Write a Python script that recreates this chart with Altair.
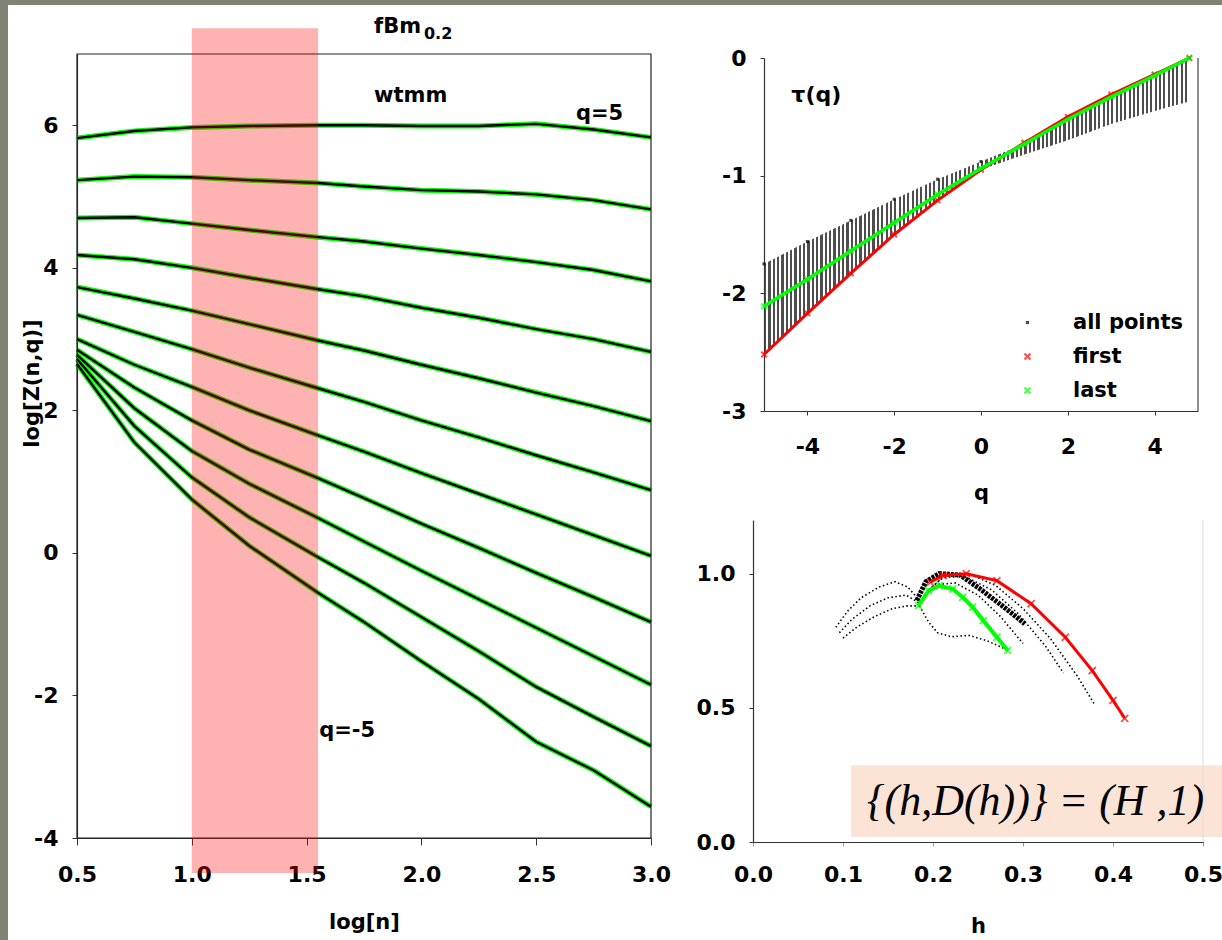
import altair as alt
import pandas as pd

# ---------------- left panel: wtmm partition function log Z(n,q) ----------------
log_n = [0.5, 0.75, 1.0, 1.25, 1.55, 1.75, 2.0, 2.25, 2.5, 2.75, 3.0]
q_orders = [5, 4, 3, 2, 1, 0, -1, -2, -3, -4, -5]
logZ_q5 = [5.82, 5.92, 5.97, 5.99, 6.00, 6.00, 5.99, 5.99, 6.02, 5.94, 5.83]
logZ_q4 = [5.23, 5.28, 5.27, 5.23, 5.19, 5.14, 5.09, 5.07, 5.03, 4.95, 4.82]
logZ_q3 = [4.70, 4.71, 4.62, 4.53, 4.43, 4.37, 4.27, 4.18, 4.08, 3.97, 3.81]
logZ_q2 = [4.18, 4.12, 4.00, 3.86, 3.70, 3.60, 3.44, 3.30, 3.14, 3.00, 2.82]
logZ_q1 = [3.73, 3.57, 3.40, 3.21, 2.98, 2.84, 2.64, 2.45, 2.25, 2.06, 1.85]
logZ_q0 = [3.34, 3.10, 2.86, 2.60, 2.31, 2.12, 1.86, 1.62, 1.37, 1.13, 0.88]
logZ_qm1 = [3.00, 2.64, 2.33, 2.00, 1.65, 1.42, 1.12, 0.83, 0.54, 0.25, -0.04]
logZ_qm2 = [2.85, 2.32, 1.86, 1.45, 1.05, 0.77, 0.41, 0.07, -0.28, -0.62, -0.97]
logZ_qm3 = [2.78, 2.03, 1.43, 0.97, 0.49, 0.16, -0.25, -0.65, -1.05, -1.45, -1.85]
logZ_qm4 = [2.72, 1.78, 1.06, 0.50, -0.06, -0.42, -0.90, -1.38, -1.88, -2.30, -2.71]
logZ_qm5 = [2.65, 1.55, 0.75, 0.10, -0.56, -0.97, -1.52, -2.05, -2.65, -3.05, -3.56]
logZ_all = [logZ_q5, logZ_q4, logZ_q3, logZ_q2, logZ_q1, logZ_q0,
            logZ_qm1, logZ_qm2, logZ_qm3, logZ_qm4, logZ_qm5]
fit_window = [1.0, 1.55]
fit_window_y = [-4.49, 7.36]

# ---------------- top right: tau(q) ----------------
q_grid = [-5, -4, -3, -2, -1, 0, 1, 2, 3, 4, 4.8]
tau_first = [-2.52, -2.17, -1.83, -1.50, -1.21, -0.95, -0.72, -0.50, -0.31, -0.14, 0.0]
tau_last = [-2.11, -1.88, -1.64, -1.40, -1.16, -0.94, -0.73, -0.52, -0.33, -0.15, 0.0]
tau_cloud_hi = [-1.75, -1.56, -1.38, -1.20, -1.03, -0.88, -0.73, -0.52, -0.33, -0.15, 0.0]
tau_cloud_lo = [-2.52, -2.17, -1.83, -1.50, -1.21, -0.95, -0.82, -0.70, -0.56, -0.45, -0.37]
series_names = ["all points", "first", "last"]

# ---------------- bottom right: spectrum D(h) ----------------
h_first = [0.197, 0.211, 0.237, 0.271, 0.309, 0.347, 0.377, 0.400, 0.413]
D_first = [0.968, 0.993, 1.000, 0.974, 0.888, 0.763, 0.639, 0.528, 0.461]
h_last = [0.184, 0.195, 0.207, 0.222, 0.233, 0.244, 0.256, 0.271, 0.283]
D_last = [0.881, 0.937, 0.955, 0.943, 0.912, 0.875, 0.825, 0.763, 0.714]
arc_h = {
    "a": [0.092, 0.105, 0.120, 0.140, 0.158, 0.172, 0.185],
    "b": [0.100, 0.115, 0.135, 0.155, 0.172, 0.185],
    "c": [0.096, 0.110, 0.130, 0.150, 0.170, 0.185],
    "d": [0.185, 0.195, 0.205, 0.220, 0.240, 0.260, 0.280],
    "e": [0.190, 0.205, 0.225, 0.250, 0.275, 0.300],
    "f": [0.190, 0.210, 0.235, 0.265, 0.295, 0.325, 0.345],
    "g": [0.195, 0.215, 0.240, 0.270, 0.300, 0.330, 0.360, 0.380],
}
arc_D = {
    "a": [0.80, 0.86, 0.91, 0.95, 0.97, 0.95, 0.90],
    "b": [0.76, 0.80, 0.84, 0.87, 0.88, 0.88],
    "c": [0.78, 0.83, 0.88, 0.91, 0.92, 0.89],
    "d": [0.88, 0.82, 0.78, 0.765, 0.77, 0.75, 0.72],
    "e": [0.91, 0.96, 0.965, 0.92, 0.84, 0.74],
    "f": [0.92, 0.985, 0.99, 0.94, 0.85, 0.73, 0.63],
    "g": [0.94, 0.995, 1.0, 0.955, 0.87, 0.76, 0.62, 0.51],
}
heavy_h = [0.182, 0.192, 0.207, 0.230, 0.252, 0.279, 0.302]
heavy_D = [0.90, 0.97, 1.00, 0.995, 0.944, 0.875, 0.813]

FONT = "DejaVu Sans"
GREEN = "#00ff00"
MINUS = "replace(datum.label, '\u2212', '-')"

# ---------------- scales (pixel ranges inside the single canvas) ----------------
def Lx():
    return alt.Scale(domain=[0.5, 3.0], range=[69, 643], nice=False, zero=False)
def Ly():
    return alt.Scale(domain=[-4, 7], range=[833, 49], nice=False, zero=False)
def Tx():
    return alt.Scale(domain=[-5, 5], range=[756, 1190], nice=False, zero=False)
def Ty():
    return alt.Scale(domain=[-3, 0], range=[406, 53], nice=False, zero=False)
def Hx():
    return alt.Scale(domain=[0.0, 0.5], range=[745, 1195], nice=False, zero=False)
def Hy():
    return alt.Scale(domain=[0.0, 1.2], range=[837, 515], nice=False, zero=False)

layers = []

# ---------------- left panel ----------------
rows = []
for q, ys in zip(q_orders, logZ_all):
    for x, y in zip(log_n, ys):
        rows.append({"q": q, "logn": x, "logZ": y})
df_left = pd.DataFrame(rows)

ax_lx = alt.Axis(orient="bottom", offset=-102, values=[0.5, 1.0, 1.5, 2.0, 2.5, 3.0],
                 format=".1f", title="log[n]", tickSize=7, labelPadding=19,
                 labelFlush=False, titleY=90, titleBaseline="alphabetic")
ax_ly = alt.Axis(orient="left", offset=-69, values=[-4, -2, 0, 2, 4, 6], format="d",
                 labelExpr=MINUS,
                 title="log[Z(n,q)]", tickSize=5, labelPadding=14, titleX=-39,
                 titleY=378, titleAngle=-90, titleBaseline="alphabetic",
                 titleAlign="center")

layers.append(alt.Chart(df_left).mark_line(color=GREEN, strokeWidth=5).encode(
    x=alt.X("logn:Q", scale=Lx(), axis=None),
    y=alt.Y("logZ:Q", scale=Ly(), axis=None),
    detail="q:N",
))
layers.append(alt.Chart(df_left).mark_line(color="black", strokeWidth=2.4).encode(
    x=alt.X("logn:Q", scale=Lx(), axis=ax_lx),
    y=alt.Y("logZ:Q", scale=Ly(), axis=ax_ly),
    detail="q:N",
))
df_box = pd.DataFrame({"x1": [0.5], "x2": [3.0], "y1": [-4], "y2": [7]})
layers.append(alt.Chart(df_box).mark_rect(fillOpacity=0, stroke="#222", strokeWidth=1.2).encode(
    x=alt.X("x1:Q", scale=Lx(), axis=None), x2="x2:Q",
    y=alt.Y("y1:Q", scale=Ly(), axis=None), y2="y2:Q",
))
df_band = pd.DataFrame({"x1": [fit_window[0]], "x2": [fit_window[1]],
                        "y1": [fit_window_y[0]], "y2": [fit_window_y[1]]})
layers.append(alt.Chart(df_band).mark_rect(color="#ff0000", opacity=0.3).encode(
    x=alt.X("x1:Q", scale=Lx(), axis=None), x2="x2:Q",
    y=alt.Y("y1:Q", scale=Ly(), axis=None), y2="y2:Q",
))
df_ltxt = pd.DataFrame({"label": ["fBm", "wtmm", "q=5", "q=-5"],
                        "x": [1.794, 1.794, 2.673, 1.555],
                        "y": [7.30, 6.32, 6.07, -2.58]})
layers.append(alt.Chart(df_ltxt).mark_text(font=FONT, fontSize=21, fontWeight="bold",
                                           align="left", baseline="alphabetic",
                                           color="black").encode(
    x=alt.X("x:Q", scale=Lx(), axis=None), y=alt.Y("y:Q", scale=Ly(), axis=None),
    text="label:N",
))
df_sub = pd.DataFrame({"label": ["0.2"], "x": [2.011], "y": [7.21]})
layers.append(alt.Chart(df_sub).mark_text(font=FONT, fontSize=16, fontWeight="bold",
                                          align="left", baseline="alphabetic",
                                          color="black").encode(
    x=alt.X("x:Q", scale=Lx(), axis=None), y=alt.Y("y:Q", scale=Ly(), axis=None),
    text="label:N",
))

# ---------------- tau(q) panel ----------------
df_cloud = pd.DataFrame({"q": q_grid, "lo": tau_cloud_lo, "hi": tau_cloud_hi})
stops = []
n_cols = 98
for i in range(n_cols):
    a = i / n_cols
    b = (i + 0.5) / n_cols
    stops += [{"offset": a, "color": "#ffffff"}, {"offset": a, "color": "#3a3a3a"},
              {"offset": b, "color": "#3a3a3a"}, {"offset": b, "color": "#ffffff"}]
stops.append({"offset": 1, "color": "#ffffff"})
gradient = {"gradient": "linear", "x1": 0, "x2": 1, "y1": 0, "y2": 0, "stops": stops}

ax_tx = alt.Axis(orient="bottom", offset=-529, values=[-4, -2, 0, 2, 4], format="d",
                 labelExpr=MINUS,
                 title="q", tickSize=4, labelPadding=21, labelFlush=False,
                 titleY=88, titleBaseline="alphabetic")
ax_ty = alt.Axis(orient="left", offset=-756, values=[-3, -2, -1, 0], format="d",
                 labelExpr=MINUS, title=None, tickSize=4, labelPadding=14)

layers.append(alt.Chart(df_cloud).mark_area(fill=gradient, opacity=0.9).encode(
    x=alt.X("q:Q", scale=Tx(), axis=ax_tx),
    y=alt.Y("lo:Q", scale=Ty(), axis=ax_ty),
    y2="hi:Q",
))
trow = []
for q, a, b, c in zip(q_grid, tau_cloud_hi, tau_first, tau_last):
    trow.append({"q": q, "tau": a, "series": "all points"})
    trow.append({"q": q, "tau": b, "series": "first"})
    trow.append({"q": q, "tau": c, "series": "last"})
df_tau = pd.DataFrame(trow)
x_path = "M-1,-1L1,1M-1,1L1,-1"
dot_path = "M-0.2,-0.2L0.2,-0.2L0.2,0.2L-0.2,0.2Z"
leg = alt.Legend(orient="none", legendX=1009, legendY=307, title=None,
                 labelFont=FONT, labelFontSize=21, labelFontWeight="bold",
                 labelColor="black", symbolSize=36, symbolStrokeWidth=2,
                 labelOffset=35, rowPadding=12, padding=0)
layers.append(alt.Chart(df_tau).mark_point(filled=False, size=30, strokeWidth=2).encode(
    x=alt.X("q:Q", scale=Tx(), axis=None),
    y=alt.Y("tau:Q", scale=Ty(), axis=None),
    color=alt.Color("series:N", scale=alt.Scale(domain=series_names,
                                                range=["black", "red", GREEN]), legend=leg),
    shape=alt.Shape("series:N", scale=alt.Scale(domain=series_names,
                                                range=[dot_path, x_path, x_path]), legend=leg),
))
layers.append(alt.Chart(df_tau[df_tau.series == "first"]).mark_line(
    color="red", strokeWidth=3).encode(
    x=alt.X("q:Q", scale=Tx(), axis=None), y=alt.Y("tau:Q", scale=Ty(), axis=None)))
layers.append(alt.Chart(df_tau[df_tau.series == "last"]).mark_line(
    color=GREEN, strokeWidth=3.5).encode(
    x=alt.X("q:Q", scale=Tx(), axis=None), y=alt.Y("tau:Q", scale=Ty(), axis=None)))
df_tb = pd.DataFrame({"q": [5], "y1": [-3], "y2": [0]})
layers.append(alt.Chart(df_tb).mark_rule(color="#444", strokeWidth=1.2).encode(
    x=alt.X("q:Q", scale=Tx(), axis=None), y=alt.Y("y1:Q", scale=Ty(), axis=None),
    y2="y2:Q"))
df_tt = pd.DataFrame({"label": ["τ(q)"], "q": [-4.37], "tau": [-0.374]})
layers.append(alt.Chart(df_tt).mark_text(font=FONT, fontSize=22, fontWeight="bold",
                                         align="left", baseline="alphabetic",
                                         color="black").encode(
    x=alt.X("q:Q", scale=Tx(), axis=None), y=alt.Y("tau:Q", scale=Ty(), axis=None),
    text="label:N"))

# ---------------- D(h) panel ----------------
arows = []
for k in arc_h:
    for i, (h, d) in enumerate(zip(arc_h[k], arc_D[k])):
        arows.append({"arc": k, "i": i, "h": h, "D": d})
df_arcs = pd.DataFrame(arows)
df_heavy = pd.DataFrame({"h": heavy_h, "D": heavy_D, "i": list(range(len(heavy_h)))})
df_hf = pd.DataFrame({"h": h_first, "D": D_first, "i": list(range(len(h_first)))})
df_hl = pd.DataFrame({"h": h_last, "D": D_last, "i": list(range(len(h_last)))})

ax_hx = alt.Axis(orient="bottom", offset=-98, values=[0.0, 0.1, 0.2, 0.3, 0.4, 0.5],
                 format=".1f", title="h", tickSize=4, labelPadding=18,
                 labelFlush=False, titleY=90, titleBaseline="alphabetic",
                 tickColor="#999")
ax_hy = alt.Axis(orient="left", offset=-745, values=[0.0, 0.5, 1.0], format=".1f",
                 title=None, tickSize=4, labelPadding=14)

df_fbox = pd.DataFrame({"x1": [0.109], "x2": [0.521], "y1": [0.019], "y2": [0.286]})
layers.append(alt.Chart(df_fbox).mark_rect(color="#fbe4d6").encode(
    x=alt.X("x1:Q", scale=Hx(), axis=ax_hx), x2="x2:Q",
    y=alt.Y("y1:Q", scale=Hy(), axis=ax_hy), y2="y2:Q"))
df_hb = pd.DataFrame({"h": [0.5], "y1": [0.0], "y2": [1.2]})
layers.append(alt.Chart(df_hb).mark_rule(color="#dddddd", strokeWidth=1).encode(
    x=alt.X("h:Q", scale=Hx(), axis=None), y=alt.Y("y1:Q", scale=Hy(), axis=None),
    y2="y2:Q"))
layers.append(alt.Chart(df_arcs).mark_line(color="black", strokeWidth=1.6,
                                           strokeDash=[1.5, 2.5]).encode(
    x=alt.X("h:Q", scale=Hx(), axis=None), y=alt.Y("D:Q", scale=Hy(), axis=None),
    detail="arc:N", order="i:Q"))
layers.append(alt.Chart(df_heavy).mark_line(color="black", strokeWidth=5,
                                            strokeDash=[3, 1]).encode(
    x=alt.X("h:Q", scale=Hx(), axis=None), y=alt.Y("D:Q", scale=Hy(), axis=None),
    order="i:Q"))
layers.append(alt.Chart(df_hf).mark_line(color="red", strokeWidth=3).encode(
    x=alt.X("h:Q", scale=Hx(), axis=None), y=alt.Y("D:Q", scale=Hy(), axis=None),
    order="i:Q"))
layers.append(alt.Chart(df_hf).mark_point(shape=x_path, color="red", size=50,
                                          strokeWidth=1.8).encode(
    x=alt.X("h:Q", scale=Hx(), axis=None), y=alt.Y("D:Q", scale=Hy(), axis=None)))
layers.append(alt.Chart(df_hl).mark_line(color=GREEN, strokeWidth=4).encode(
    x=alt.X("h:Q", scale=Hx(), axis=None), y=alt.Y("D:Q", scale=Hy(), axis=None),
    order="i:Q"))
layers.append(alt.Chart(df_hl).mark_point(shape=x_path, color=GREEN, size=50,
                                          strokeWidth=1.8).encode(
    x=alt.X("h:Q", scale=Hx(), axis=None), y=alt.Y("D:Q", scale=Hy(), axis=None)))
df_formula = pd.DataFrame({"label": ["{(h,D(h))} = (H ,1)"], "h": [0.314], "D": [0.10]})
layers.append(alt.Chart(df_formula).mark_text(font="Liberation Serif", fontSize=44,
                                              fontStyle="italic", align="center",
                                              baseline="alphabetic", color="black").encode(
    x=alt.X("h:Q", scale=Hx(), axis=None), y=alt.Y("D:Q", scale=Hy(), axis=None),
    text="label:N"))

chart = alt.layer(*layers).resolve_scale(
    x="independent", y="independent"
).properties(
    width=1214, height=935,
    autosize=alt.AutoSizeParams(type="none"),
    padding={"left": 8, "top": 5, "right": 0, "bottom": 0},
    background="#7f8275",
).configure_view(fill="white", strokeWidth=0).configure_axis(
    grid=False, labelFont=FONT, labelFontSize=22, labelFontWeight="bold",
    labelColor="black", titleFont=FONT, titleFontSize=21, titleFontWeight="bold",
    titleColor="black", domainColor="#333", tickColor="#333", domainWidth=1.2,
)

chart.save("out.html", embed_options={"renderer": "svg", "actions": False})
